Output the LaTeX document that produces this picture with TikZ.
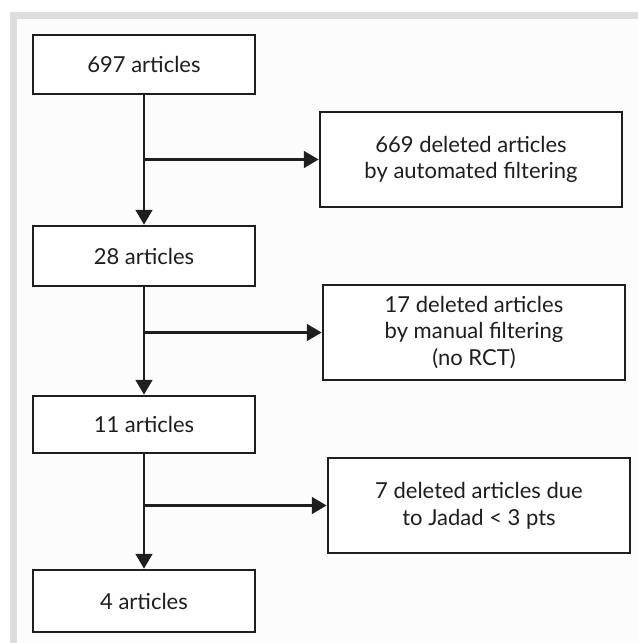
\documentclass[tikz,border=0pt]{standalone}
\usepackage{fontspec}
\setmainfont{Lato}
\usetikzlibrary{arrows.meta}
\definecolor{framegray}{HTML}{DCDDDE}
\definecolor{inner}{HTML}{FCFCFC}
\definecolor{ink}{HTML}{1E1E1E}
\tikzset{
  box/.style={draw=ink, line width=2.1pt, fill=white, rectangle, align=center,
    font=\fontsize{16.5}{20}\selectfont, text=ink, inner sep=0pt},
  mainbox/.style={box, minimum width=166.5pt},
  sidebox/.style={box, minimum width=226.5pt, minimum height=71.25pt},
  conn/.style={draw=ink, line width=1.7pt},
  arr/.style={conn, -{Triangle[width=12.5pt,length=11pt]}}
}
\begin{document}
\begin{tikzpicture}[x=0.75pt, y=-0.75pt]
\useasboundingbox (0,0) rectangle (638,643);
\fill[white] (0,0) rectangle (638,643);
\fill[framegray] (10,12) rectangle (638,19);
\fill[framegray] (10,12) rectangle (17,643);
\fill[inner] (17,19) rectangle (638,643);

\node[mainbox, minimum height=44.25pt] (a1) at (144,64.5) {697 articles};
\node[sidebox] (d1) at (471,159.5) {669 deleted articles\\by automated filtering};
\node[mainbox, minimum height=45pt] (a2) at (144,256) {28 articles};
\node[sidebox] (d2) at (474,332.5) {17 deleted articles\\by manual filtering\\(no RCT)};
\node[mainbox, minimum height=42.75pt] (a3) at (144,424.5) {11 articles};
\node[sidebox] (d3) at (479,505.5) {7 deleted articles due\\to Jadad < 3 pts};
\node[mainbox, minimum height=46.5pt] (a4) at (144,601) {4 articles};

\draw[arr] (a1) -- (a2);
\draw[arr] (a2) -- (a3);
\draw[arr] (a3) -- (a4);
\draw[arr] (a1 |- d1) -- (d1);
\draw[arr] (a2 |- d2) -- (d2);
\draw[arr] (a3 |- d3) -- (d3);
\end{tikzpicture}
\end{document}
